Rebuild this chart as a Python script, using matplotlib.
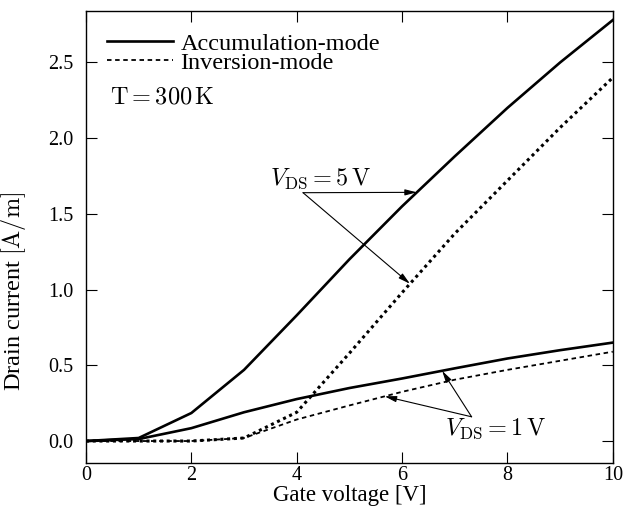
import numpy as np
import matplotlib
matplotlib.use('Agg')
import matplotlib.pyplot as plt

plt.rcParams['font.family'] = ['Liberation Serif', 'DejaVu Serif']
plt.rcParams['mathtext.fontset'] = 'cm'
plt.rcParams['font.size'] = 14.5

# gate voltage [V]
vg = [0, 1, 2, 3, 4, 5, 6, 7, 8, 9, 10]
# drain current [A/m], V_DS = 5 V
acc_5v = [0.0, 0.02, 0.185, 0.47, 0.83, 1.20, 1.55, 1.88, 2.20, 2.50, 2.78]
inv_5v = [0.0, 0.0, 0.0, 0.02, 0.19, 0.58, 0.98, 1.37, 1.72, 2.07, 2.40]
# drain current [A/m], V_DS = 1 V
acc_1v = [0.0, 0.013, 0.085, 0.19, 0.277, 0.35, 0.413, 0.48, 0.545, 0.60, 0.65]
inv_1v = [0.0, 0.0, 0.0, 0.02, 0.142, 0.235, 0.325, 0.405, 0.47, 0.53, 0.59]

big = 17.5

fig = plt.figure(figsize=(6.37, 5.09), dpi=100)
ax = fig.add_axes([0.135, 0.0904, 0.827, 0.888])

ax.plot(vg, acc_5v, 'k-', lw=1.9, label='Accumulation-mode')
ax.plot(vg, inv_1v, 'k', lw=1.3, dashes=(2.5, 2), label='Inversion-mode')
ax.plot(vg, acc_1v, 'k-', lw=1.9)
ax.plot(vg, inv_5v, 'k', lw=2.2, dashes=(1, 1.2))

ax.set_xlim(0, 10)
ax.set_ylim(-0.145, 2.84)
ax.set_xticks(np.arange(0, 10.1, 2))
ax.set_yticks(np.arange(0, 2.51, 0.5))
ax.tick_params(direction='in', top=True, right=True, length=8, width=0.8)
ax.tick_params(axis='y', pad=9)
ax.tick_params(axis='x', pad=2)
for s in ax.spines.values():
    s.set_linewidth(1.0)

ax.set_xlabel('Gate voltage [V]', fontsize=16.5)
ax.xaxis.set_label_coords(0.5, -0.048)
ax.set_ylabel(r'Drain current $[\mathrm{A}/\mathrm{m}]$', fontsize=big)
ax.yaxis.set_label_coords(-0.11, 0.38)

leg = ax.legend(loc='upper left', frameon=False, fontsize=big, handlelength=2.7,
                labelspacing=-0.12, handletextpad=0.32, borderpad=0,
                bbox_to_anchor=(0.04, 0.952), borderaxespad=0)
ax.text(0.46, 2.23, r'$\mathrm{T} = 300\,\mathrm{K}$', fontsize=big, ha='left', va='baseline')

arw = dict(arrowstyle='-|>,head_length=0.7,head_width=0.18',
           color='k', lw=0.8, shrinkA=0, shrinkB=0, mutation_scale=10)

# V_DS = 5 V annotation
ax.text(3.49, 1.69, r'$V_{\mathrm{DS}} = 5\,\mathrm{V}$', fontsize=big, ha='left', va='baseline')
start5 = (4.12, 1.64)
ax.annotate('', xy=(6.28, np.interp(6.28, vg, acc_5v)), xytext=start5, arrowprops=arw)
ax.annotate('', xy=(6.15, np.interp(6.15, vg, inv_5v)), xytext=start5, arrowprops=arw)

# V_DS = 1 V annotation
ax.text(6.81, 0.04, r'$V_{\mathrm{DS}} = 1\,\mathrm{V}$', fontsize=big, ha='left', va='baseline')
start1 = (7.32, 0.16)
ax.annotate('', xy=(5.67, np.interp(5.67, vg, inv_1v)), xytext=start1, arrowprops=arw)
ax.annotate('', xy=(6.76, np.interp(6.76, vg, acc_1v)), xytext=start1, arrowprops=arw)

fig.savefig('out.png', dpi=100)
